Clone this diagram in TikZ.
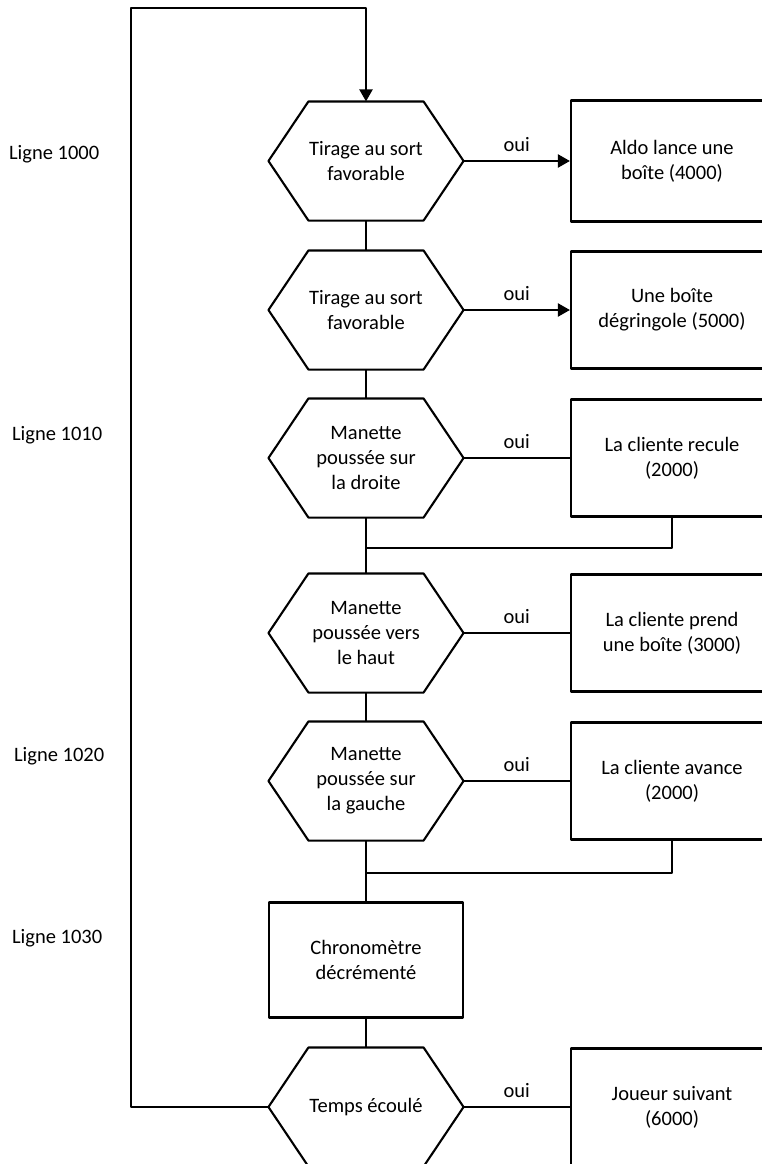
\documentclass[tikz,border=0pt]{standalone}
\usepackage{fontspec}
\setmainfont{Carlito}
\usetikzlibrary{arrows.meta}

% Outline of a flat-topped hexagon drawn around a rectangular node
\newcommand\hexout[1]{%
  \draw (#1.west) -- ([xshift=40pt]#1.north west) -- ([xshift=-40pt]#1.north east)
    -- (#1.east) -- ([xshift=-40pt]#1.south east) -- ([xshift=40pt]#1.south west) -- cycle;}

\begin{document}
\begin{tikzpicture}[x=1pt, y=-1pt, line width=2.1pt, line join=round,
  txt/.style={font=\fontsize{20.5}{25}\selectfont, align=center},
  hexa/.style={txt, rectangle, minimum width=193pt, minimum height=117pt, inner sep=0pt},
  act/.style={txt, rectangle, draw, minimum width=202pt, minimum height=117pt, inner sep=0pt},
  arr/.style={-{Triangle[length=12pt,width=13pt]}},
  yes/.style={txt, above=5pt, midway},
  tag/.style={txt, anchor=base west, inner sep=0pt}]

\useasboundingbox (0,0) rectangle (762,1164);
\clip (0,0) rectangle (762,1164);

% decision hexagons and the counter box
\node[hexa] (h1) at (366,161) {Tirage au sort\\favorable};
\node[hexa] (h2) at (366,310) {Tirage au sort\\favorable};
\node[hexa] (h3) at (366,458) {Manette\\poussée sur\\la droite};
\node[hexa] (h4) at (366,633) {Manette\\poussée vers\\le haut};
\node[hexa] (h5) at (366,781) {Manette\\poussée sur\\la gauche};
\node[txt, rectangle, draw, minimum width=194pt, minimum height=115pt, inner sep=0pt] (c) at (366,960) {Chronomètre\\décrémenté};
\node[hexa] (h6) at (366,1107) {Temps écoulé};
\foreach \n in {h1,h2,h3,h4,h5,h6} {\hexout{\n}}

% actions
\node[act, minimum height=121pt] (b1) at (672,161) {Aldo lance une\\boîte (4000)};
\node[act] (b2) at (672,310) {Une boîte\\dégringole (5000)};
\node[act] (b3) at (672,458) {La cliente recule\\(2000)};
\node[act] (b4) at (672,633) {La cliente prend\\une boîte (3000)};
\node[act] (b5) at (672,781) {La cliente avance\\(2000)};
\node[act] (b6) at (672,1107) {Joueur suivant\\(6000)};

% line labels
\node[tag] (l1) at (8,159) {Ligne 1000};
\node[tag] (l2) at (11,440) {Ligne 1010};
\node[tag] (l3) at (13,761) {Ligne 1020};
\node[tag] (l4) at (11,943) {Ligne 1030};

% main flow
\draw (h1.south) -- (h2.north);
\draw (h2.south) -- (h3.north);
\draw (h3.south) -- (h4.north);
\draw (h4.south) -- (h5.north);
\draw (h5.south) -- (c.north);
\draw (c.south) -- (h6.north);

% "oui" branches
\draw[arr] (h1.east) -- node[yes] {oui} (b1.west);
\draw[arr] (h2.east) -- node[yes] {oui} (b2.west);
\draw (h3.east) -- node[yes] {oui} (b3.west);
\draw (h4.east) -- node[yes] {oui} (b4.west);
\draw (h5.east) -- node[yes] {oui} (b5.west);
\draw (h6.east) -- node[yes] {oui} (b6.west);

% returns from the joystick actions
\coordinate (m1) at (366,548);
\coordinate (m2) at (366,873);
\draw (b3.south) |- (m1);
\draw (b5.south) |- (m2);

% loop back to the start
\coordinate (lb) at (131,1107);
\coordinate (lt) at (131,8);
\draw[arr] (h6.west) -- (lb) -- (lt) -| (h1.north);
\end{tikzpicture}
\end{document}
